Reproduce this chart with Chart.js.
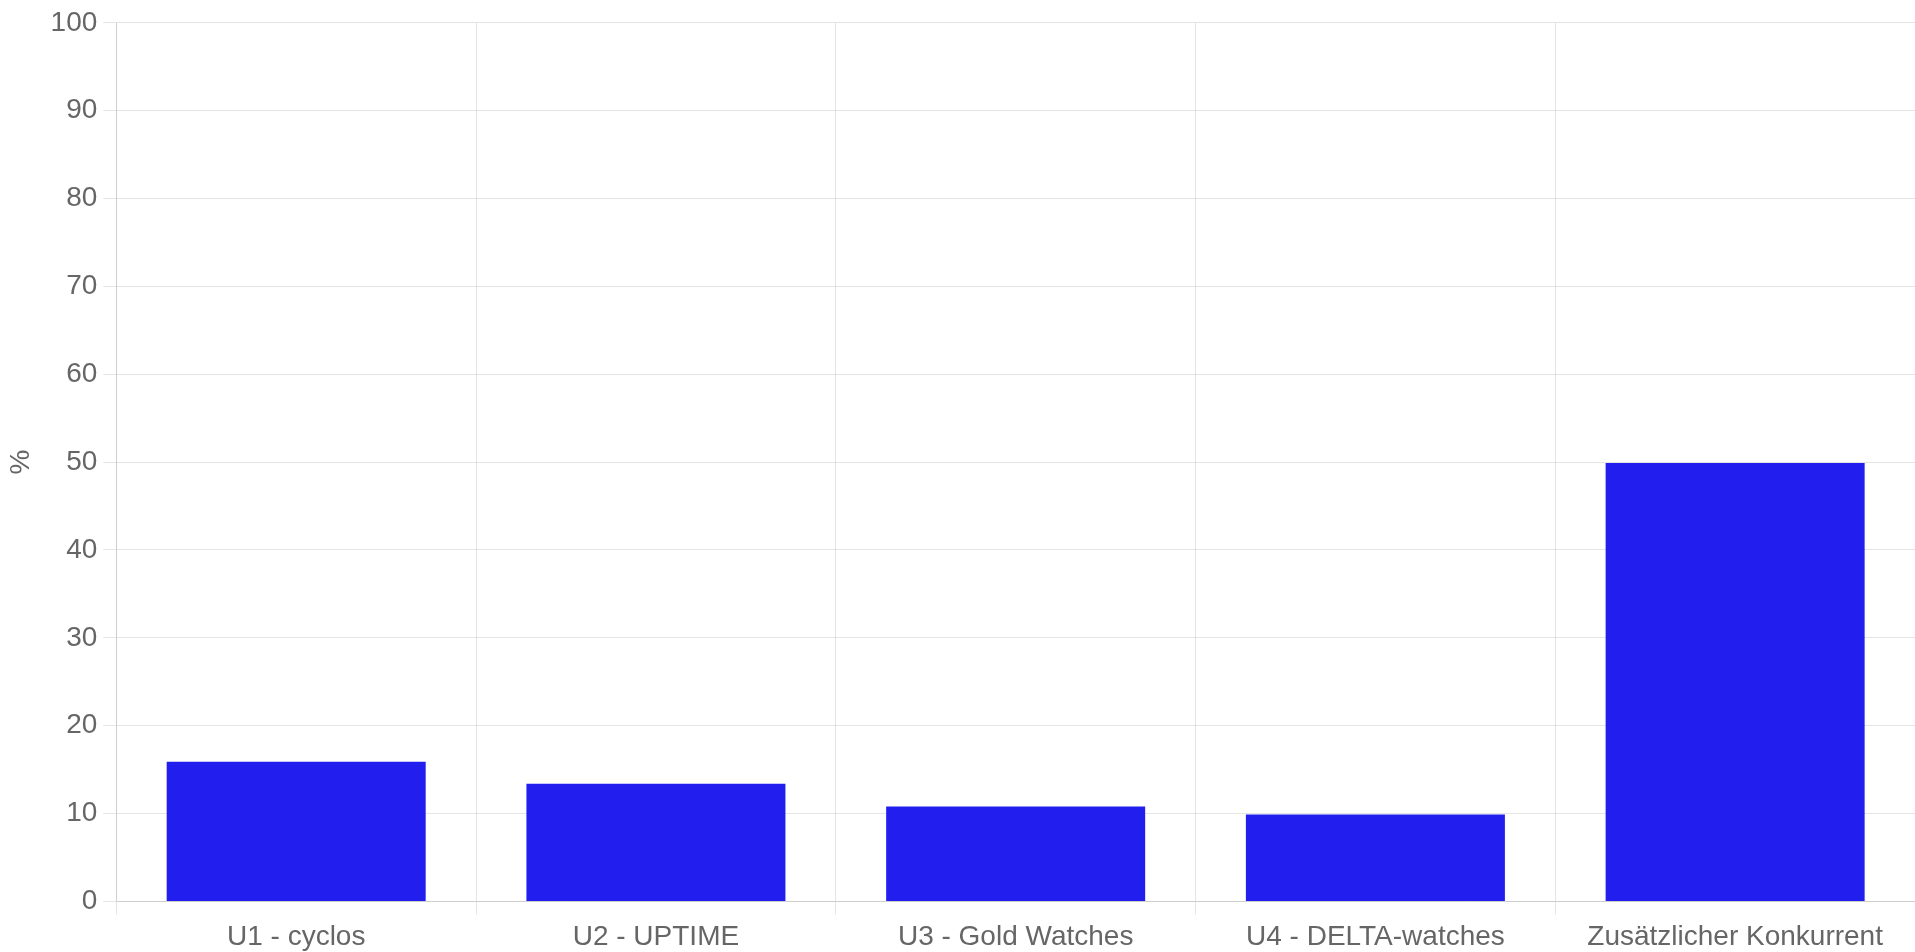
<!DOCTYPE html>
<html>
<head>
<meta charset="utf-8">
<script src="https://cdn.jsdelivr.net/npm/chart.js@4/dist/chart.umd.min.js"></script>
<style>
  html, body { margin: 0; padding: 0; background: #fff; overflow: hidden; }
  #wrap { width: 1915px; height: 952px; }
</style>
</head>
<body>
<div id="wrap"><canvas id="c" width="1915" height="952"></canvas></div>
<script>
const categories = ["U1 - cyclos", "U2 - UPTIME", "U3 - Gold Watches", "U4 - DELTA-watches", "Zusätzlicher Konkurrent"];
const values = [15.9, 13.4, 10.8, 9.9, 49.9];
const yAxisTitle = "%";
const yMin = 0, yMax = 100, yStep = 10;

Chart.defaults.font.family = "'Liberation Sans', Arial, Helvetica, sans-serif";
Chart.defaults.font.size = 28;
Chart.defaults.color = "#666";

new Chart(document.getElementById("c"), {
  type: "bar",
  data: {
    labels: categories,
    datasets: [{
      label: "",
      data: values,
      backgroundColor: "#221fee",
      borderWidth: 0
    }]
  },
  options: {
    responsive: false,
    animation: false,
    layout: { padding: { top: 6, right: 0, bottom: -8, left: 0 } },
    plugins: { legend: { display: false }, tooltip: { enabled: false } },
    scales: {
      x: {
        grid: { color: "rgba(0,0,0,0.1)", tickLength: 13, offset: true },
        ticks: { padding: 6, maxRotation: 0, autoSkip: false }
      },
      y: {
        min: yMin, max: yMax,
        ticks: { stepSize: yStep, padding: 6 },
        grid: { color: "rgba(0,0,0,0.1)", tickLength: 13 },
        title: { display: true, text: yAxisTitle, padding: { top: 4, bottom: 7 } }
      }
    }
  }
});
</script>
</body>
</html>
